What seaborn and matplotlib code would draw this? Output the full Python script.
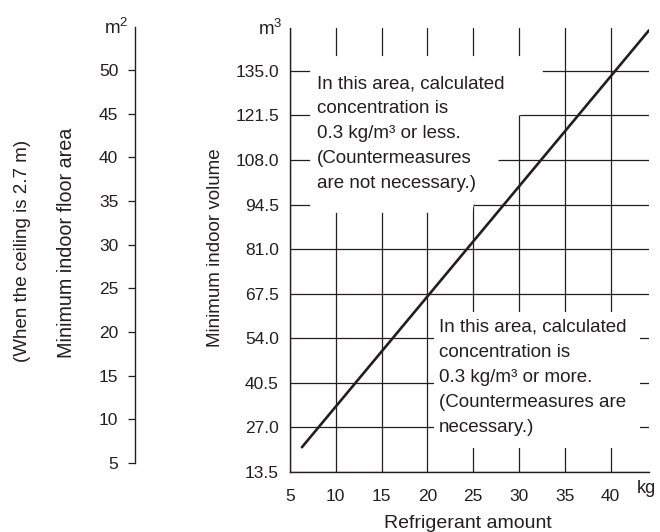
import matplotlib
matplotlib.use("Agg")
import matplotlib.pyplot as plt
from matplotlib import font_manager
import seaborn as sns
import pandas as pd

# ---------------- data ----------------
refrigerant_kg = [6.3, 44.2]          # line end points
min_volume_m3 = [21.0, 147.3]
x_ticks = [5, 10, 15, 20, 25, 30, 35, 40]
volume_ticks = [13.5, 27.0, 40.5, 54.0, 67.5, 81.0, 94.5, 108.0, 121.5, 135.0]
area_ticks = [5, 10, 15, 20, 25, 30, 35, 40, 45, 50]
upper_lines = ["In this area, calculated", "concentration is",
               "0.3 kg/m\u00b3 or less.", "(Countermeasures", "are not necessary.)"]
lower_lines = ["In this area, calculated", "concentration is",
               "0.3 kg/m\u00b3 or more.", "(Countermeasures are", "necessary.)"]

# ---------------- style ----------------
sns.set_theme(style="white")
plt.rcParams["font.family"] = ["Liberation Sans", "DejaVu Sans"]
plt.rcParams["mathtext.fontset"] = "custom"
plt.rcParams["mathtext.rm"] = "Liberation Sans"
plt.rcParams["mathtext.it"] = "Liberation Sans:italic"
plt.rcParams["mathtext.bf"] = "Liberation Sans:bold"

# condensed face for tick numbers if one is installed
narrow = [f.fname for f in font_manager.fontManager.ttflist
          if "narrow" in f.fname.lower() and "liberation" in f.fname.lower()
          and "bold" not in f.fname.lower() and "italic" not in f.fname.lower()]
if narrow:
    tick_fp = font_manager.FontProperties(fname=narrow[0], size=14.5)
else:
    tick_fp = font_manager.FontProperties(family="Liberation Sans", size=12.5)

INK = "#231f20"
W, H = 660, 532
fig = plt.figure(figsize=(6.6, 5.32), dpi=100)

# main axes
ax = fig.add_axes([290 / W, 1 - 472 / H, (649 - 290) / W, (472 - 28) / H])
df = pd.DataFrame({"kg": refrigerant_kg, "vol": min_volume_m3})
sns.lineplot(data=df, x="kg", y="vol", ax=ax, color=INK, lw=1.9, zorder=4)
ax.set_xlim(5, 44.2)
ax.set_ylim(13.5, 148)
ax.set_xticks(x_ticks)
ax.set_yticks(volume_ticks)
ax.set_xticklabels([str(v) for v in x_ticks])
ax.set_yticklabels([f"{v:.1f}" for v in volume_ticks])
ax.set_xlabel("")
ax.set_ylabel("")
ax.grid(True, color=INK, lw=0.9)
ax.set_axisbelow(True)
for s in ["top", "right"]:
    ax.spines[s].set_visible(False)
for s in ["left", "bottom"]:
    ax.spines[s].set_color(INK)
    ax.spines[s].set_linewidth(1.0)
ax.tick_params(axis="both", length=0, colors=INK)
ax.tick_params(axis="x", pad=12)
ax.tick_params(axis="y", pad=8)
for lab in ax.get_xticklabels() + ax.get_yticklabels():
    lab.set_fontproperties(tick_fp)

# white masks that break the grid around the notes
ax.fill([7.2, 7.2, 32.6, 32.6, 30.0, 27.8, 25.1, 24.9],
        [92, 139.5, 139.5, 123, 121.5, 108, 95.0, 92],
        color="white", lw=0, zorder=1.5)
ax.fill([20.7, 43.2, 43.2, 20.7], [20.8, 20.8, 62, 62],
        color="white", lw=0, zorder=1.5)

def note(x, y, lines):
    for i, t in enumerate(lines):
        ax.annotate(t, (x, y), xytext=(0, -18 * i), textcoords="offset points",
                    ha="left", va="baseline", fontsize=13.5, color=INK, zorder=5)

note(7.9, 129.7, upper_lines)
note(21.3, 56.0, lower_lines)

# secondary floor-area axis
ax2 = fig.add_axes([135 / W, 1 - 463 / H, 0.0001, (463 - 27) / H])
ax2.set_ylim(5, 54.9)
ax2.set_xticks([])
ax2.set_yticks(area_ticks)
ax2.set_yticklabels([str(v) for v in area_ticks])
for s in ["top", "right", "bottom"]:
    ax2.spines[s].set_visible(False)
ax2.spines["left"].set_color(INK)
ax2.spines["left"].set_linewidth(1.0)
ax2.tick_params(axis="y", left=True, direction="out", length=5, width=0.9,
                colors=INK, pad=7)
for lab in ax2.get_yticklabels():
    lab.set_fontproperties(tick_fp)
ax2.patch.set_alpha(0)

# labels
fig.text(128 / W, 1 - 34 / H, "m$^2$", ha="right", va="baseline", fontsize=13.5, color=INK)
fig.text(283 / W, 1 - 35 / H, "m$^3$", ha="right", va="baseline", fontsize=13.5, color=INK)
fig.text(646 / W, 1 - 493 / H, "kg", ha="center", va="baseline", fontsize=13, color=INK)
fig.text(215 / W, 1 - 248 / H, "Minimum indoor volume", rotation=90,
         ha="center", va="center", fontsize=13.5, color=INK)
fig.text(67 / W, 1 - 243 / H, "Minimum indoor floor area", rotation=90,
         ha="center", va="center", fontsize=14.2, color=INK)
fig.text(23 / W, 1 - 251 / H, "(When the ceiling is 2.7 m)", rotation=90,
         ha="center", va="center", fontsize=13.5, color=INK)
fig.text(468 / W, 1 - 523 / H, "Refrigerant amount", ha="center", va="center",
         fontsize=14, color=INK)

fig.savefig("out.png", dpi=100)
